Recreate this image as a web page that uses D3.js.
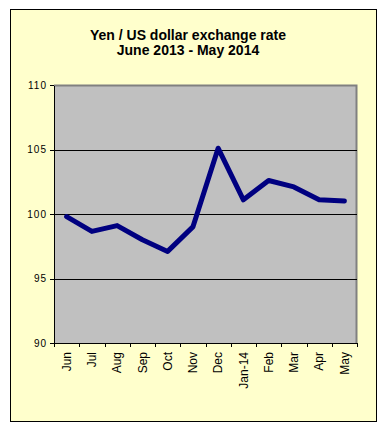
<!DOCTYPE html>
<meta charset="utf-8">
<script src="https://cdn.jsdelivr.net/npm/d3@7"></script>
<style>
body { margin: 0; background: #fff; }
svg { display: block; font-family: Arial, "Liberation Sans", sans-serif; }
.title { font-weight: bold; font-size: 14px; fill: #000; }
.axis text { font-size: 10px; fill: #000; }
.axis path, .axis line { stroke: #000; shape-rendering: crispEdges; }
.grid line { stroke: #000; shape-rendering: crispEdges; }
</style>
<body>
<div class="chart"></div>
<script>

// monthly data
var months = ["Jun", "Jul", "Aug", "Sep", "Oct", "Nov", "Dec", "Jan-14", "Feb", "Mar", "Apr", "May"];
var rates = [99.8, 98.65, 99.1, 98.0, 97.1, 99.0, 105.1, 101.1, 102.6, 102.1, 101.1, 101.0];
var yTicks = [90, 95, 100, 105, 110];
var titleLines = ["Yen / US dollar exchange rate", "June 2013 - May 2014"];

var W = 389, H = 433;
var margin = {top: 85, right: 32, bottom: 90, left: 54},
    width = 357 - margin.left,
    height = 343 - margin.top;

var svg = d3.select(".chart").append("svg")
    .attr("width", W)
    .attr("height", H);

// chart area background + frame
svg.append("rect")
    .attr("x", 10.5).attr("y", 9.5)
    .attr("width", 366).attr("height", 412)
    .attr("fill", "#ffffcc")
    .attr("stroke", "#000")
    .attr("stroke-width", 1);

// title
svg.selectAll(".title")
    .data(titleLines)
  .enter().append("text")
    .attr("class", "title")
    .attr("x", 188)
    .attr("y", function(d, i) { return 40 + i * 15; })
    .attr("text-anchor", "middle")
    .text(function(d) { return d; });

var g = svg.append("g")
    .attr("transform", "translate(" + margin.left + "," + margin.top + ")");

var x = d3.scaleBand()
    .domain(months)
    .range([0, width]);

var y = d3.scaleLinear()
    .domain([90, 110])
    .range([height, 0]);

// plot background
g.append("rect")
    .attr("width", width)
    .attr("height", height)
    .attr("fill", "#c0c0c0");

// top + right border in grey
g.append("path")
    .attr("d", "M0,0.5H" + (width - 0.5) + "V" + height)
    .attr("fill", "none")
    .attr("stroke", "#808080")
    .attr("stroke-width", 2);

// gridlines
g.append("g")
    .attr("class", "grid")
  .selectAll("line")
    .data(yTicks.slice(1, -1))
  .enter().append("line")
    .attr("x1", 0)
    .attr("x2", width)
    .attr("y1", function(d) { return Math.round(y(d)) + 0.5; })
    .attr("y2", function(d) { return Math.round(y(d)) + 0.5; });

// y axis
var yAxis = g.append("g")
    .attr("class", "axis")
    .call(d3.axisLeft(y).tickValues(yTicks).tickSize(4).tickSizeOuter(0).tickPadding(3));
yAxis.selectAll("text").style("letter-spacing", "1px");

// x axis, ticks on band boundaries
var xAxis = g.append("g")
    .attr("class", "axis")
    .attr("transform", "translate(0," + height + ")")
    .call(d3.axisBottom(x).tickSize(0).tickSizeOuter(0));
xAxis.selectAll("text")
    .style("font-size", "12px")
    .attr("transform", "rotate(-90)")
    .attr("text-anchor", "end")
    .attr("x", -9)
    .attr("y", 0)
    .attr("dy", "0.35em");

xAxis.selectAll(".bound")
    .data(d3.range(months.length + 1))
  .enter().append("line")
    .attr("class", "bound")
    .attr("x1", function(d) { return Math.round(d * x.step()) + 0.5; })
    .attr("x2", function(d) { return Math.round(d * x.step()) + 0.5; })
    .attr("y1", 0)
    .attr("y2", 4)
    .attr("stroke", "#000");

// the line
var line = d3.line()
    .x(function(d, i) { return x(months[i]) + x.bandwidth() / 2; })
    .y(function(d) { return y(d); });

g.append("path")
    .datum(rates)
    .attr("d", line)
    .attr("fill", "none")
    .attr("stroke", "#000080")
    .attr("stroke-width", 5)
    .attr("stroke-linejoin", "round")
    .attr("stroke-linecap", "round");

</script>
</body>
</html>
